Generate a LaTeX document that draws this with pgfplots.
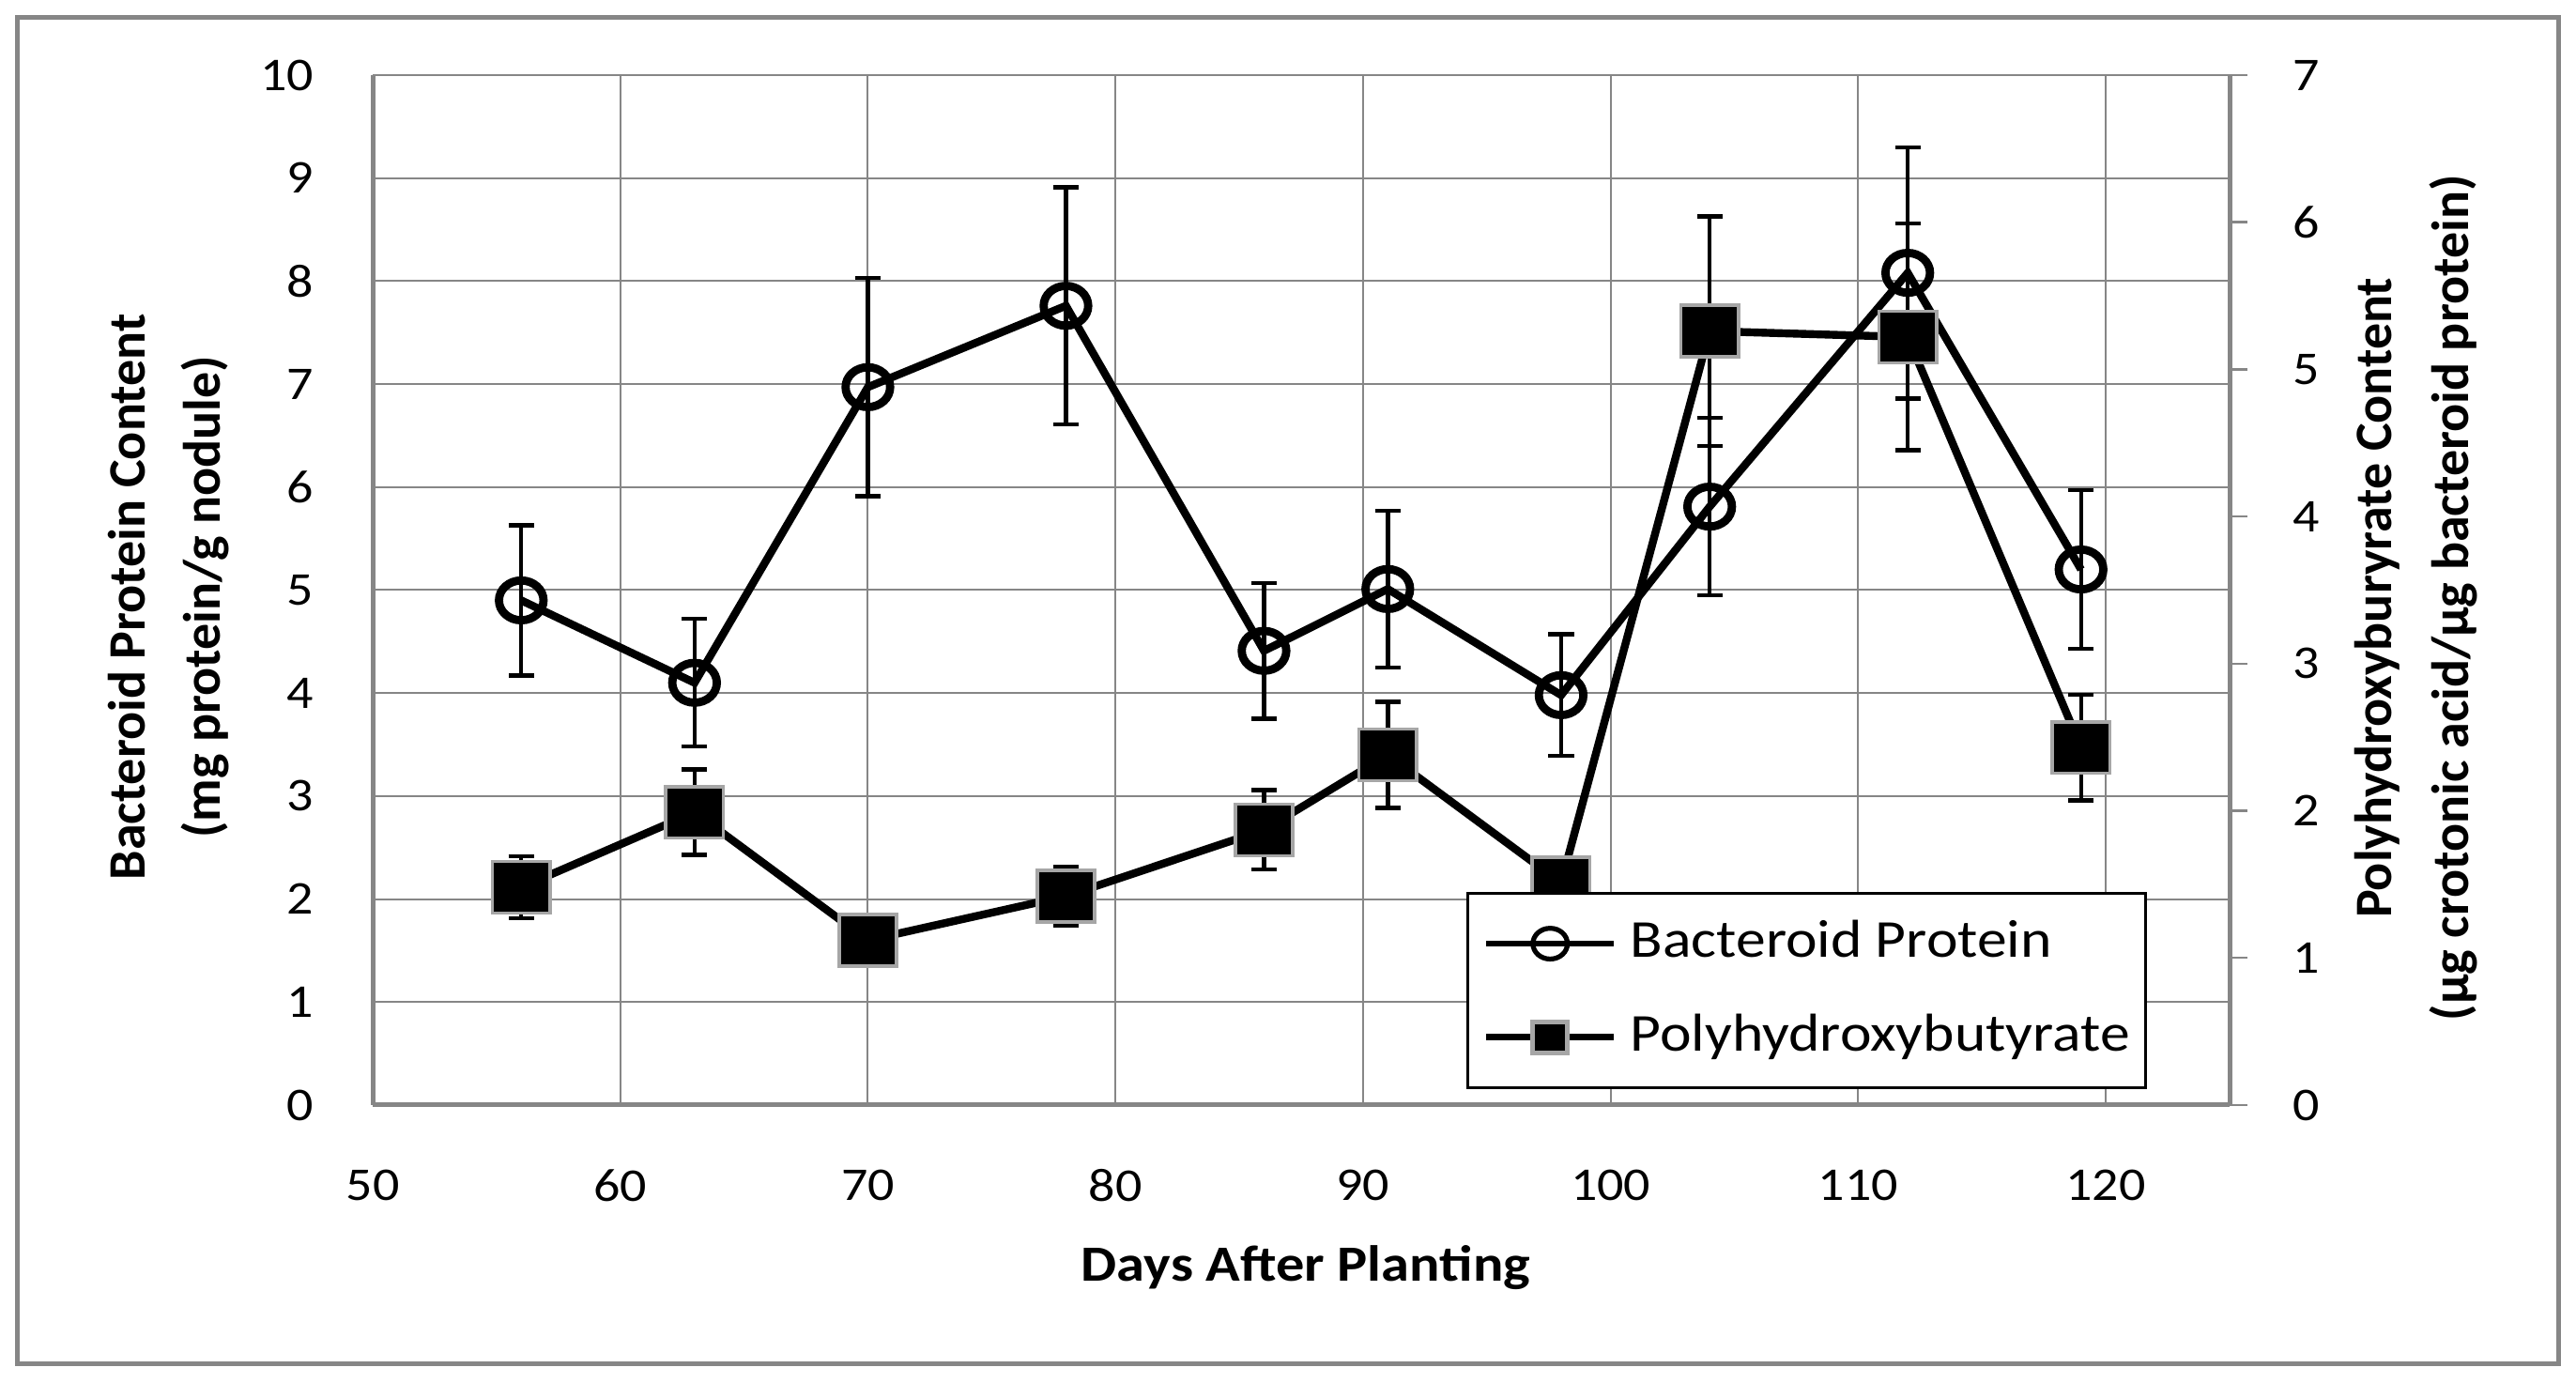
\documentclass[border=0pt]{standalone}
\usepackage{fontspec}
\setmainfont{Carlito}
\newfontfamily\hfont[FakeStretch=1.12]{Carlito}
\usepackage{pgfplots}
\pgfplotsset{compat=1.18}
\usepackage{pgfplotstable}
\definecolor{axgray}{HTML}{868686}
\definecolor{mkgray}{HTML}{A6A6A6}

\pgfplotstableread{
x y e
56 4.90 0.73
63 4.10 0.62
70 6.97 1.06
78 7.76 1.15
86 4.41 0.66
91 5.01 0.76
98 3.98 0.59
104 5.81 0.86
112 8.08 1.22
119 5.20 0.77
}\bact

\pgfplotstableread{
x y e
56 1.48 0.21
63 1.99 0.29
70 1.12 0.05
78 1.42 0.20
86 1.87 0.27
91 2.38 0.36
98 1.51 0.16
104 5.26 0.78
112 5.22 0.77
119 2.43 0.36
}\phb

\pgfplotsset{
  bactstyle/.style={black, line width=2.1pt, mark=o, mark size=5.3pt,
    mark options={xscale=1.12, line width=2.2pt, draw=black, solid}},
  phbstyle/.style={black, line width=2.1pt, mark=square*, mark size=6.85pt,
    mark options={xscale=1.12, line width=0.9pt, draw=mkgray, fill=black, solid}},
  errstyle/.style={error bars/.cd, y dir=both, y explicit,
    error bar style={line width=1.1pt, black, solid},
    error mark options={rotate=90, mark size=3.4pt, line width=1.1pt, black}},
}

\begin{document}
\begin{tikzpicture}
\useasboundingbox (0,0) rectangle (686pt,368.25pt);
\draw[axgray, line width=1.25pt] (4.5pt,5pt) rectangle (681.25pt,363.5pt);
\begin{axis}[
  at={(99.25pt,74pt)}, anchor=south west,
  scale only axis, width=494.5pt, height=274.25pt,
  xmin=50, xmax=125, ymin=0, ymax=10,
  xtick={50,60,...,120}, ytick={0,1,...,10},
  axis x line*=bottom, axis y line*=left,
  axis line style={axgray, line width=1.25pt, -},
  grid=major, grid style={axgray, line width=0.5pt},
  major tick length=0pt,
  tick label style={font=\hfont\fontsize{12.5pt}{15pt}\selectfont, inner sep=0pt, black},
  /pgf/number format/assume math mode=true,
  yticklabel style={anchor=east, xshift=-15.5pt},
  xticklabel style={anchor=north, yshift=-17pt},
  clip=false,
]
\addplot[bactstyle, errstyle] table[x=x, y=y, y error=e] {\bact};
\end{axis}
\begin{axis}[
  at={(99.25pt,74pt)}, anchor=south west,
  scale only axis, width=494.5pt, height=274.25pt,
  xmin=50, xmax=125, ymin=0, ymax=7,
  ytick={0,1,...,7},
  axis x line=none, axis y line*=right,
  axis line style={axgray, line width=1.25pt, -},
  tick align=outside, major tick length=4.75pt,
  tick style={axgray, line width=0.6pt},
  tick label style={font=\hfont\fontsize{12.5pt}{15pt}\selectfont, inner sep=0pt, black},
  /pgf/number format/assume math mode=true,
  yticklabel style={anchor=west, xshift=12pt},
  clip=false,
  legend cell align=left,
  legend style={at={(0.9555,0.0155)}, anchor=south east, draw=black, line width=0.75pt,
    fill=white, inner xsep=4.2pt, inner ysep=7.5pt, row sep=13.15pt, column sep=3.5pt,
    font=\hfont\fontsize{14.2pt}{17pt}\selectfont,
    nodes={inner sep=0pt, text height=0.75em+2pt, text depth=0.25em-0.2pt}, cells={anchor=west}},
  legend image code/.code={\draw[mark repeat=2, mark phase=2, #1, line width=1.7pt, mark size=4.1pt,
      every mark/.append style={line width=1.3pt}]
    plot coordinates {(0pt,0pt) (17pt,0pt) (34pt,0pt)};},
]
\addlegendimage{bactstyle}
\addlegendentry{Bacteroid Protein}
\addplot[phbstyle, errstyle] table[x=x, y=y, y error=e] {\phb};
\addlegendentry{Polyhydroxybutyrate}
\end{axis}
\node[rotate=90, align=center, font=\bfseries\fontsize{14pt}{20pt}\selectfont] at (45pt,209.25pt)
  {Bacteroid Protein Content\\(mg protein/g nodule)};
\node[rotate=90, align=center, font=\bfseries\fontsize{14pt}{20.5pt}\selectfont] at (643.5pt,209pt)
  {Polyhydroxyburyrate  Content\\(µg crotonic  acid/µg bacteroid protein)};
\node[font=\hfont\bfseries\fontsize{13.5pt}{16pt}\selectfont] at (347.75pt,30.75pt)
  {Days  After Planting};
\end{tikzpicture}
\end{document}
